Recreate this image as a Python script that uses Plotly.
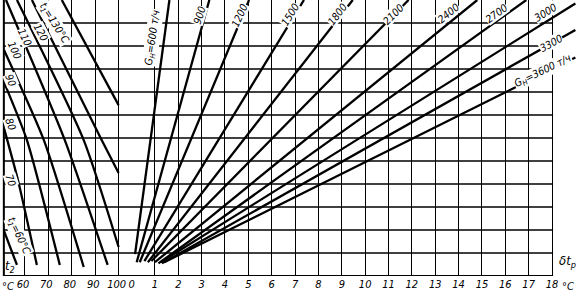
import plotly.graph_objects as go

# ---------------- data ----------------
# left panel: t2 (°C) on the horizontal axis, family of t1 curves
t2_ticks = [60, 70, 80, 90, 100]
t1_values = [60, 70, 80, 90, 100, 110, 120, 130]
t1_curve_t2 = [
    [51.06, 56.59],
    [51.06, 57.02, 65.10],
    [51.06, 60.85, 74.89],
    [51.06, 68.08, 85.10],
    [51.91, 77.02, 95.32],
    [56.59, 85.10, 100.0],
    [62.98, 92.76, 100.0],
    [75.74, 100.0],
]
t1_curve_y = [
    [1.96, 0.48],
    [6.43, 4.17, 0.48],
    [8.43, 5.91, 0.48],
    [9.83, 5.91, 0.39],
    [12.0, 5.91, 0.48],
    [12.0, 5.91, 1.26],
    [12.0, 5.91, 4.48],
    [12.0, 7.43],
]

# right panel: δt_p (°C) on the horizontal axis, family of G_H lines (t/h)
dt_ticks = list(range(0, 19))
g_values = [600, 900, 1200, 1500, 1800, 2100, 2400, 2700, 3000, 3300, 3600]
g_dt_start = [0.15, 0.22, 0.35, 0.55, 0.70, 0.85, 1.00, 1.15, 1.25, 1.30, 1.40]
g_y_start = [0.95, 0.60, 0.60, 0.65, 0.60, 0.65, 0.60, 0.55, 0.60, 0.55, 0.60]
g_dt_end = [1.62, 3.33, 5.03, 7.38, 9.47, 11.86, 14.8, 16.9, 19.0, 19.0, 19.0]
g_y_end = [12.0, 12.0, 12.0, 12.0, 12.0, 12.0, 12.0, 12.0, 11.85, 10.7, 9.5]

# curve labels
g_labels = ["G<sub>Н</sub>=600 т/ч", "900", "1200", "1500", "1800", "2100",
            "2400", "2700", "3000", "3300", "G<sub>Н</sub>=3600 т/ч"]
g_lab_x = [0.90, 2.90, 4.62, 6.80, 8.80, 11.20, 13.55, 15.62, 17.72, 17.96, 17.62]
g_lab_y = [10.35, 11.35, 11.35, 11.38, 11.40, 11.40, 11.45, 11.45, 11.5, 10.13, 8.91]
g_lab_angle = [-82, -72, -66, -58, -52, -45, -39, -36, -32, -29, -26]

t1_labels = ["t<sub>1</sub>=60°C", "70", "80", "90", "100", "110", "120", "t<sub>1</sub>=130°C"]
t1_lab_x = [57.4, 54.0, 54.0, 54.0, 55.7, 60.0, 66.8, 72.3]
t1_lab_y = [1.74, 4.17, 6.61, 8.52, 9.83, 10.39, 10.6, 10.98]
t1_lab_angle = [65, 72, 70, 68, 66, 64, 62, 58]

# ---------------- layout geometry ----------------
W, H = 579, 292
split = 129 / W
FONT = "DejaVu Sans Condensed, Liberation Sans Narrow, Arial Narrow, sans-serif"

fig = go.Figure()

for i, t1 in enumerate(t1_values):
    fig.add_trace(go.Scatter(
        x=t1_curve_t2[i], y=t1_curve_y[i], line_shape="spline",
        mode="lines", line=dict(color="black", width=2.3, smoothing=0.6),
        xaxis="x", yaxis="y", showlegend=False, hoverinfo="skip"))

for i, g in enumerate(g_values):
    fig.add_trace(go.Scatter(
        x=[g_dt_start[i], g_dt_end[i]], y=[g_y_start[i], g_y_end[i]],
        mode="lines", line=dict(color="black", width=2.3),
        xaxis="x2", yaxis="y2", showlegend=False, hoverinfo="skip"))

shapes = []
for yv in range(1, 12):
    shapes.append(dict(type="line", xref="paper", yref="y", x0=2 / W, x1=553 / W,
                       y0=yv, y1=yv, line=dict(color="black", width=1.3), layer="below"))
shapes.append(dict(type="line", xref="paper", yref="y", x0=2 / W, x1=553 / W,
                   y0=0, y1=0, line=dict(color="black", width=2)))
shapes.append(dict(type="line", xref="x", yref="y", x0=51.0, x1=51.0,
                   y0=0, y1=12, line=dict(color="black", width=2)))

annotations = []
lab_font = dict(family=FONT, size=10.5, color="black", style="italic")
for i, t in enumerate(g_labels):
    annotations.append(dict(xref="x2", yref="y2", x=g_lab_x[i], y=g_lab_y[i], text=t,
                            showarrow=False, textangle=g_lab_angle[i], font=lab_font,
                            bgcolor="white", borderpad=0))
for i, t in enumerate(t1_labels):
    annotations.append(dict(xref="x", yref="y", x=t1_lab_x[i], y=t1_lab_y[i], text=t,
                            showarrow=False, textangle=t1_lab_angle[i], font=lab_font,
                            bgcolor="white", borderpad=0))
big_font = dict(family=FONT, size=13, color="black", style="italic")
annotations.append(dict(xref="x", yref="y", x=53.6, y=0.43, text="t<sub>2</sub>",
                        showarrow=False, font=big_font))
annotations.append(dict(xref="x2", yref="y2", x=18.65, y=0.65, text="δt<sub>р</sub>",
                        showarrow=False, font=big_font))
ax_font = dict(family=FONT, size=11, color="black", style="italic")
annotations.append(dict(xref="paper", yref="paper", x=6 / W, y=-10 / 276, text="°C",
                        xanchor="center", showarrow=False, yanchor="middle", font=ax_font))
annotations.append(dict(xref="paper", yref="paper", x=568 / W, y=-10 / 276, text="°C",
                        xanchor="center", showarrow=False, yanchor="middle", font=ax_font))

tick_font = dict(family=FONT, size=11, color="black", style="italic")
fig.update_layout(
    width=W, height=H,
    margin=dict(l=0, r=0, t=0, b=16),
    paper_bgcolor="white", plot_bgcolor="white",
    xaxis=dict(domain=[0, split], range=[50.21, 105.1], tickvals=t2_ticks,
               ticktext=[str(v) for v in t2_ticks], showgrid=True, gridcolor="black",
               gridwidth=1.3, zeroline=False, showline=False, ticks="", tickfont=tick_font,
               ticklabelshift=-2, fixedrange=True),
    xaxis2=dict(domain=[split, 1], range=[-0.043, 19.155], tickvals=dt_ticks,
                ticktext=[str(v) for v in dt_ticks], showgrid=True, gridcolor="black",
                gridwidth=1.3, zeroline=False, showline=False, ticks="", tickfont=tick_font,
                anchor="y2", fixedrange=True),
    yaxis=dict(range=[0, 12], showgrid=False, zeroline=False, showticklabels=False,
               anchor="x", fixedrange=True),
    yaxis2=dict(range=[0, 12], showgrid=False, zeroline=False, showticklabels=False,
                anchor="x2", overlaying="y", fixedrange=True),
    shapes=shapes, annotations=annotations,
)

fig.write_html("out.html")
